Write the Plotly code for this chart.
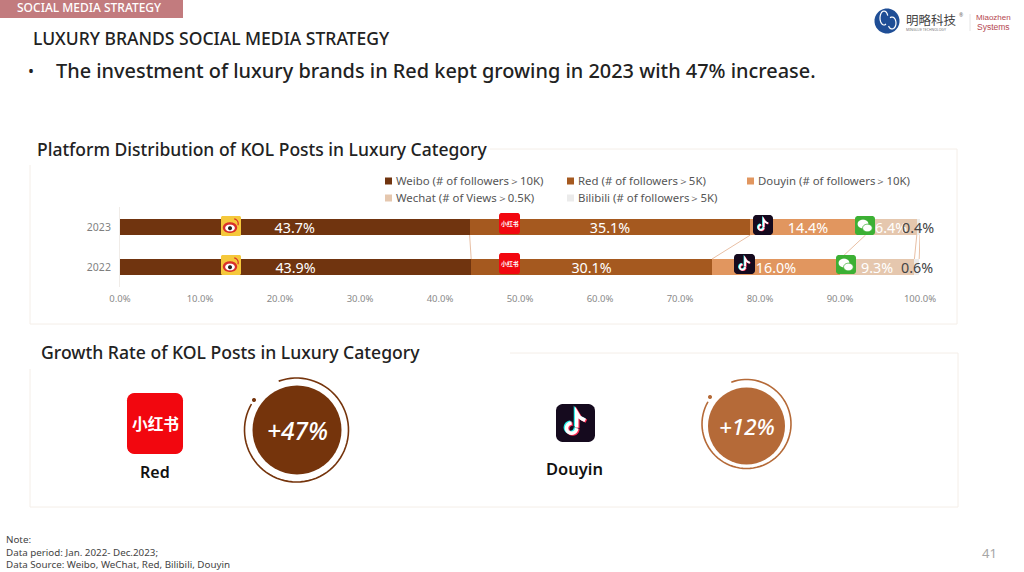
import math
import plotly.graph_objects as go

years = ["2022", "2023"]
series_names = ["Weibo (# of followers＞10K)", "Red (# of followers＞5K)", "Douyin (# of followers＞10K)",
                "Wechat (# of Views＞0.5K)", "Bilibili (# of followers＞5K)"]
weibo = [43.9, 43.7]
red = [30.1, 35.1]
douyin = [16.0, 14.4]
wechat = [9.3, 6.4]
bilibili = [0.6, 0.4]
colors = ["#70340F", "#A5591F", "#E1965F", "#E5C7AE", "#EBEBEB"]
tick_vals = [0, 10, 20, 30, 40, 50, 60, 70, 80, 90, 100]
tick_labels = ["0.0%", "10.0%", "20.0%", "30.0%", "40.0%", "50.0%", "60.0%", "70.0%", "80.0%", "90.0%", "100.0%"]
growth_labels = ["+47%", "+12%"]

FONT = "Noto Sans"
L, R, T, B = 120, 920, 207, 287
W, H = 1024, 572
px = lambda x: (x - L) / (R - L)
py = lambda y: (B - y) / (B - T)

shapes, ann = [], []


def poly(points, close=False):
    d = "M" + " L".join(f"{px(x):.5f},{py(y):.5f}" for x, y in points)
    return d + (" Z" if close else "")


def add_path(points, fill=None, line=None, width=0, close=True):
    s = dict(type="path", xref="paper", yref="paper", path=poly(points, close), line=dict(width=width, color=line or "rgba(0,0,0,0)"))
    if fill:
        s["fillcolor"] = fill
    shapes.append(s)


def arc(cx, cy, rx, ry=None, a0=0, a1=360, n=48):
    ry = rx if ry is None else ry
    return [(cx + rx * math.cos(math.radians(a0 + (a1 - a0) * i / n)),
             cy + ry * math.sin(math.radians(a0 + (a1 - a0) * i / n))) for i in range(n + 1)]


def rrect(x0, y0, x1, y1, r, fill):
    pts = arc(x1 - r, y0 + r, r, a0=-90, a1=0, n=6) + arc(x1 - r, y1 - r, r, a0=0, a1=90, n=6) + \
          arc(x0 + r, y1 - r, r, a0=90, a1=180, n=6) + arc(x0 + r, y0 + r, r, a0=180, a1=270, n=6)
    add_path(pts, fill=fill)


def line(x0, y0, x1, y1, color, width=1):
    shapes.append(dict(type="line", xref="paper", yref="paper", x0=px(x0), x1=px(x1), y0=py(y0), y1=py(y1),
                       line=dict(color=color, width=width)))


def text(x, y, s, size, color="#222222", anchor="left", weight=400, family=FONT, italic=False):
    ann.append(dict(xref="paper", yref="paper", x=px(x), y=py(y), text=s, showarrow=False, xanchor=anchor,
                    yanchor="middle", borderpad=0, align="left",
                    font=dict(size=size, color=color, family=family, weight=weight,
                              style="italic" if italic else "normal")))


def red_icon(x0, y0, x1, y1):
    s = x1 - x0
    rrect(x0, y0, x1, y1, s * 0.13, "#F2070F")
    text((x0 + x1) / 2, (y0 + y1) / 2, "小红书", s * 0.28, "#FFFFFF", "center", 700, "Noto Sans CJK SC")


def douyin_icon(x0, y0, x1, y1):
    s = x1 - x0
    rrect(x0, y0, x1, y1, s * 0.17, "#150A1E")
    for dx, dy, c in [(-0.03, -0.02, "#25F4EE"), (0.03, 0.02, "#FE2C55"), (0, 0, "#FFFFFF")]:
        ox, oy = x0 + dx * s, y0 + dy * s
        note = [(0.53, 0.60), (0.53, 0.22)] + [(0.53 + 0.22 * t, 0.22 + 0.2 * t ** 0.5) for t in (0.3, 0.6, 1)]
        add_path([(ox + s * a, oy + s * b) for a, b in arc(0.40, 0.62, 0.13, a0=0, a1=270, n=18)],
                 line=c, width=max(1.5, s * 0.09), close=False)
        add_path([(ox + s * a, oy + s * b) for a, b in note], line=c, width=max(1.5, s * 0.09), close=False)


def weibo_icon(x0, y0, x1, y1):
    s = x1 - x0
    rrect(x0, y0, x1, y1, s * 0.08, "#F5C83B")
    cx, cy = x0 + 0.45 * s, y0 + 0.58 * s
    add_path(arc(cx, cy, 0.36 * s, 0.27 * s), fill="#D9302A")
    add_path(arc(cx, cy + 0.02 * s, 0.24 * s, 0.17 * s), fill="#FFFFFF")
    add_path(arc(cx, cy + 0.03 * s, 0.10 * s), fill="#2A2320")
    add_path(arc(x0 + 0.62 * s, y0 + 0.38 * s, 0.24 * s, a0=-80, a1=20, n=10), line="#D9302A", width=1.2, close=False)


def wechat_icon(x0, y0, x1, y1):
    s = x1 - x0
    rrect(x0, y0, x1, y1, s * 0.14, "#3CB034")
    add_path(arc(x0 + 0.40 * s, y0 + 0.40 * s, 0.27 * s, 0.22 * s), fill="#FFFFFF")
    add_path(arc(x0 + 0.62 * s, y0 + 0.60 * s, 0.24 * s, 0.19 * s), fill="#FFFFFF", line="#3CB034", width=0.8)


# page header
shapes.append(dict(type="rect", xref="paper", yref="paper", x0=px(0), x1=px(183), y0=py(18), y1=py(0),
                   fillcolor="#C27B7E", line=dict(width=0)))
text(16, 7.5, "SOCIAL MEDIA STRATEGY", 12, "#FFFFFF", weight=500)
text(31.5, 38, "LUXURY BRANDS SOCIAL MEDIA STRATEGY", 17.5, "#222222", weight=500)
text(27, 71, "•", 16, "#222222")
text(55, 70, "The investment of luxury brands in Red kept growing in 2023 with 47% increase.", 19.9, "#222222", weight=500)

# logo
add_path(arc(887, 21, 12.5), fill="#1F4E96")
add_path(arc(884, 18, 4, 7, a0=60, a1=340, n=16), line="#FFFFFF", width=1.2, close=False)
add_path(arc(892, 23, 4, 6, a0=-120, a1=150, n=16), line="#FFFFFF", width=1.2, close=False)
text(905, 19, "明略科技", 12.5, "#444444", family="Noto Sans CJK SC")
text(958, 15, "®", 5, "#666666")
text(905, 29, "MINGLUE TECHNOLOGY", 3.5, "#777777")
line(970, 14, 970, 31, "#E4E4E4", 1)
text(993, 17, "Miaozhen", 8, "#B5474F", "center", family="Liberation Sans")
text(993, 27, "Systems", 8.5, "#B5474F", "center", family="Liberation Sans")

# panels
PANEL = "#F4EEE8"
line(490, 149, 957, 149, PANEL)
line(957, 149, 957, 324, PANEL)
line(30, 324, 957, 324, PANEL)
line(30, 165, 30, 324, PANEL)
line(510, 353, 958, 353, PANEL)
line(958, 353, 958, 507, PANEL)
line(30, 507, 958, 507, PANEL)
line(30, 369, 30, 507, PANEL)
text(36, 149, "Platform Distribution of KOL Posts in Luxury Category", 17.5, "#222222", weight=500)
text(40, 352, "Growth Rate of KOL Posts in Luxury Category", 17.6, "#222222", weight=500)

# legend
legend_pos = [(385, 180), (567, 180), (747, 180), (385, 197), (567, 197)]
for (lx, ly), name, col in zip(legend_pos, series_names, colors):
    shapes.append(dict(type="rect", xref="paper", yref="paper", x0=px(lx), x1=px(lx + 7), y0=py(ly + 4.5),
                       y1=py(ly - 2.5), fillcolor=col, line=dict(width=0)))
    text(lx + 9.5, ly, name, 11.4, "#555555")

# connector lines between the two bars, positioned from the cumulative values
stacks = [weibo, red, douyin, wechat, bilibili]
cum22, cum23 = 0, 0
for s in stacks:
    cum22 += s[0]
    cum23 += s[1]
    shapes.append(dict(type="line", xref="x", yref="y", x0=cum23, x1=cum22, y0=0.8, y1=0.2,
                       line=dict(color="#E8BFA4", width=1)))

# bar icons
for yy in (216, 255):
    weibo_icon(221, yy, 241, yy + 20)
red_icon(499, 213, 520, 234)
red_icon(499, 253, 520, 274)
douyin_icon(753, 215, 773, 235)
douyin_icon(734, 254, 755, 274)
wechat_icon(855, 216, 875, 235)
wechat_icon(836, 255, 856, 274)

# growth panel
red_icon(127, 393, 183, 454)
text(155, 472, "Red", 16, "#111111", "center", 600)
douyin_icon(556, 404, 595, 442)
text(574, 468, "Douyin", 16.5, "#111111", "center", 600)

for cx, cy, r, ax, ay, ar, a0, col, lab, size, dot in [
    (297, 430, 44.5, 296.5, 430, 52, -110, "#75340C", growth_labels[0], 24.5, (254, 400)),
    (746.5, 426, 38.5, 746.5, 424, 44.5, -110, "#B56A38", growth_labels[1], 22.4, (710, 397)),
]:
    add_path(arc(cx, cy, r), fill=col)
    add_path(arc(ax, ay, ar, a0=a0, a1=a0 + 320, n=72), line=col, width=1.6, close=False)
    add_path(arc(dot[0], dot[1], 2), fill=col)
    text(cx, cy, lab, size, "#FFFFFF", "center", 500, italic=True)

# footer
text(5, 551.5, "Note:<br>Data period: Jan. 2022- Dec.2023;<br>Data Source: Weibo, WeChat, Red, Bilibili, Douyin", 9.8, "#444444")
text(989, 553, "41", 13, "#A6A6A6", "center")

fig = go.Figure()
for i, (name, vals, col) in enumerate(zip(series_names, stacks, colors)):
    small = i == 4
    fig.add_bar(
        y=years, x=vals, name=name, orientation="h", marker=dict(color=col, line=dict(width=0)),
        width=0.39, text=None if small else [f"{v:.1f}%" for v in vals], textposition="inside",
        insidetextanchor="middle", constraintext="none", cliponaxis=False, textangle=0,
        textfont=dict(size=14.3, family=FONT, color="#FFFFFF"), hoverinfo="skip",
    )

# Bilibili's slice is too thin for a bar label, so its labels sit at the slice centre
for idx, (total, v) in enumerate(zip((cum22, cum23), bilibili)):
    ann.append(dict(xref="x", yref="y", x=total - v / 2, y=idx, text=f"{v:.1f}%", showarrow=False,
                    font=dict(size=14.3, family=FONT, color="#444444")))

fig.update_layout(
    width=W, height=H, barmode="stack", paper_bgcolor="#FFFFFF", plot_bgcolor="#FFFFFF",
    margin=dict(l=L, r=W - R, t=T, b=H - B, autoexpand=False),
    font=dict(family=FONT, color="#8A8A8A"),
    xaxis=dict(range=[0, 100], tickmode="array", tickvals=tick_vals, ticktext=tick_labels, showgrid=False, zeroline=False,
               showline=False, ticks="", ticklabelstandoff=4, tickfont=dict(size=9.5, color="#8A8A8A"), automargin=False),
    yaxis=dict(type="category", categoryorder="array", categoryarray=years, range=[-0.5, 1.5], showgrid=False,
               showline=True, linecolor="#F0ECE8", linewidth=1, ticks="", ticklabelstandoff=6,
               tickfont=dict(size=10.5, color="#7F7F7F"), automargin=False),
    shapes=shapes, annotations=ann, showlegend=False,
)
fig.write_html("out.html", config=dict(displayModeBar=False),
               post_script="document.body.style.margin='0';document.documentElement.style.overflow='hidden';")
